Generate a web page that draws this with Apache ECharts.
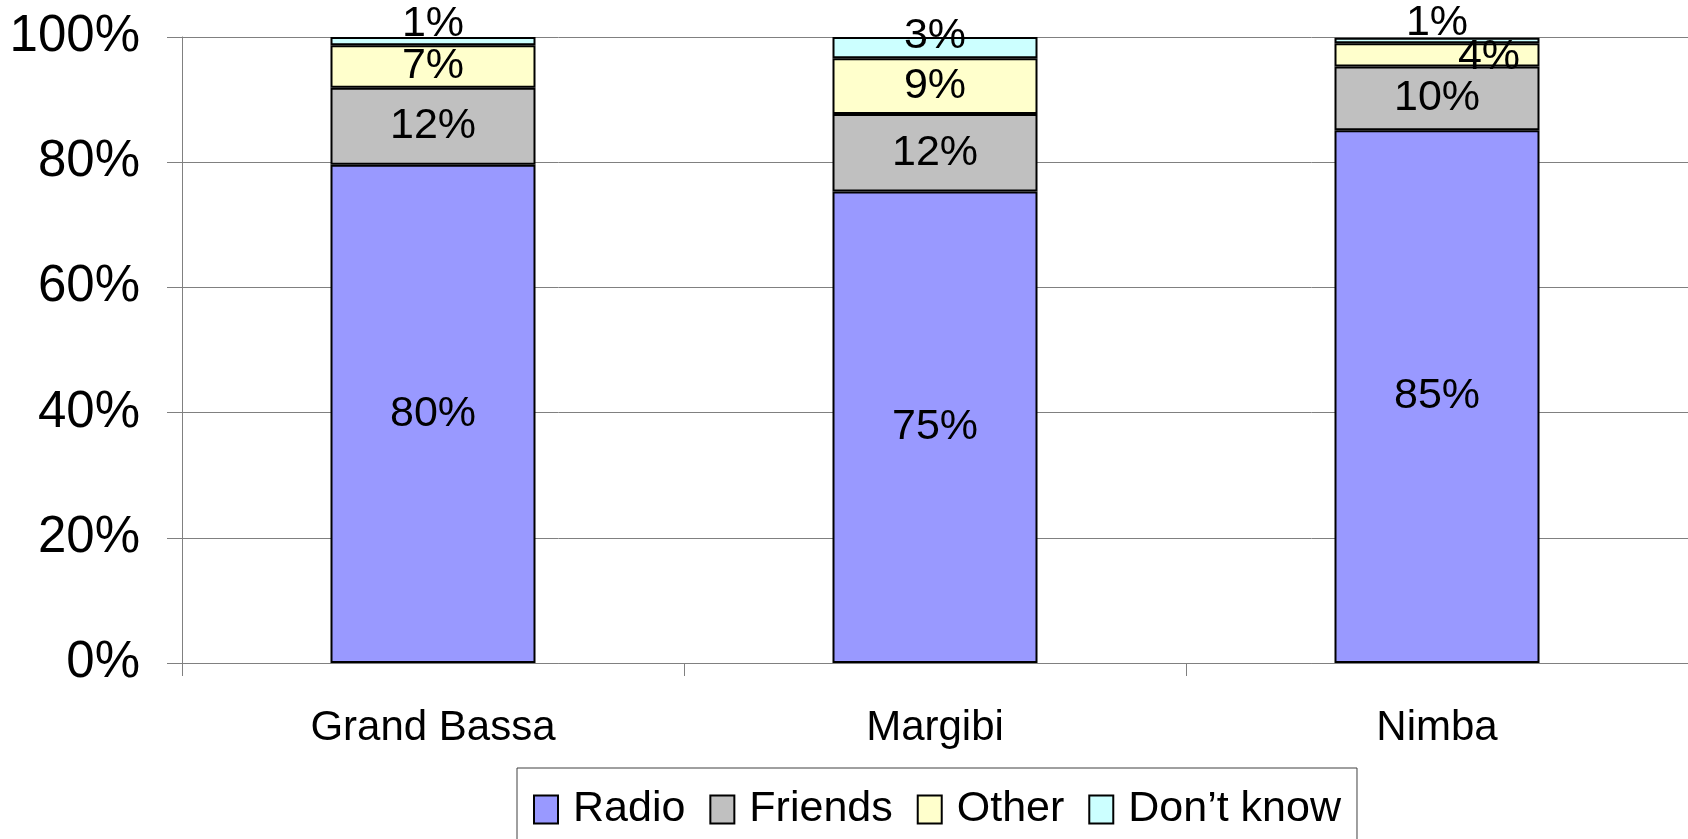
<!DOCTYPE html>
<html>
<head>
<meta charset="utf-8">
<script src="https://cdn.jsdelivr.net/npm/echarts@6/dist/echarts.min.js"></script>
<style>
html,body{margin:0;padding:0;background:#fff;}
#chart{width:1688px;height:839px;}
</style>
</head>
<body>
<div id="chart"></div>
<script>
const categories = ['Grand Bassa', 'Margibi', 'Nimba'];
const seriesNames = ['Radio', 'Friends', 'Other', 'Don\u2019t know'];
const radio = [79.6, 75.3, 85.1];
const friends = [12.3, 12.4, 10.2];
const other = [6.8, 8.9, 3.7];
const dontKnow = [1.3, 3.4, 0.9];
const yTicks = [0, 20, 40, 60, 80, 100];

const colors = ['#9999FF', '#C0C0C0', '#FFFFCC', '#CCFFFF'];
const FONT = '"Liberation Sans", Arial, sans-serif';

const chart = echarts.init(document.getElementById('chart'));

function mkSeries(name, values, color, nudge) {
  return {
    name: name,
    type: 'bar',
    stack: 'total',
    barWidth: 205,
    data: values.map((v, i) => (nudge && nudge[i]) ? { value: v, label: { offset: nudge[i] } } : v),
    itemStyle: { color: color, borderColor: '#000', borderWidth: 2 },
    label: {
      show: true,
      position: 'inside',
      color: '#000',
      fontFamily: FONT,
      fontSize: 43,
      formatter: p => Math.round(p.value) + '%'
    },
    emphasis: { disabled: true }
  };
}

chart.setOption({
  animation: false,
  backgroundColor: '#fff',
  grid: { left: 182, right: 0, top: 37, bottom: 176 },
  legend: {
    data: seriesNames,
    left: 517,
    top: 768,
    padding: [20, 16, 30, 16],
    itemWidth: 24,
    itemHeight: 28,
    itemGap: 24,
    borderColor: '#404040',
    borderWidth: 1,
    icon: 'rect',
    textStyle: { fontFamily: FONT, fontSize: 43, color: '#000', padding: [0, 0, 0, 10] }
  },
  xAxis: {
    type: 'category',
    data: categories,
    boundaryGap: true,
    axisLine: { show: true, lineStyle: { color: '#808080', width: 1 } },
    axisTick: { show: true, length: 13, alignWithLabel: false, lineStyle: { color: '#808080' } },
    axisLabel: { fontFamily: FONT, fontSize: 42, color: '#000', margin: 44 }
  },
  yAxis: {
    type: 'value',
    min: yTicks[0],
    max: yTicks[yTicks.length - 1],
    interval: yTicks[1] - yTicks[0],
    axisLine: { show: true, lineStyle: { color: '#808080', width: 1 } },
    axisTick: { show: true, length: 15, inside: false, lineStyle: { color: '#808080' } },
    axisLabel: { fontFamily: FONT, fontSize: 51, color: '#000', margin: 42, padding: [6, 0, 0, 0], formatter: '{value}%' },
    splitLine: { show: true, lineStyle: { color: '#808080', width: 1 } }
  },
  series: [
    mkSeries(seriesNames[0], radio, colors[0]),
    mkSeries(seriesNames[1], friends, colors[1]),
    mkSeries(seriesNames[2], other, colors[2], { 2: [52, 2] }),
    mkSeries(seriesNames[3], dontKnow, colors[3], { 0: [0, -17], 1: [0, -12], 2: [0, -17] })
  ]
});
</script>
</body>
</html>
